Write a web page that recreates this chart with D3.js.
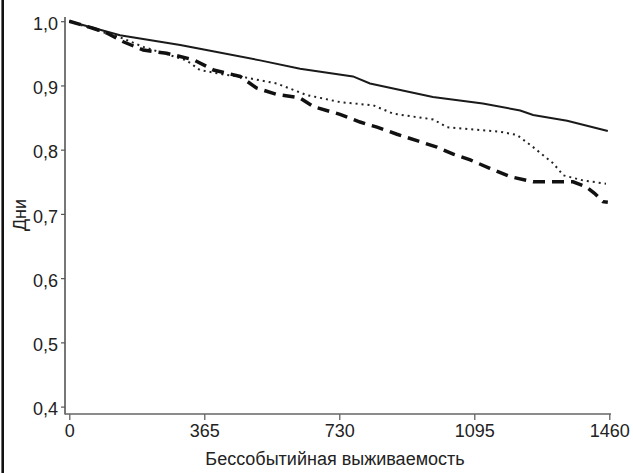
<!DOCTYPE html>
<html>
<head>
<meta charset="utf-8">
<script src="https://cdn.jsdelivr.net/npm/d3@7"></script>
<style>
  body { margin: 0; background: #fff; }
  text { font-family: "Liberation Sans", Arial, sans-serif; fill: #222; }
</style>
</head>
<body>
<svg id="chart" width="633" height="473"></svg>
<script>
// x ticks (days) and y ticks
const xTicks = [0, 365, 730, 1095, 1460];
const yTicks = [0.4, 0.5, 0.6, 0.7, 0.8, 0.9, 1.0];

// curves: [day, survival]
const solidSeries = [
  [0, 1.0], [137, 0.978], [300, 0.963], [353, 0.957], [516, 0.939], [624, 0.926],
  [767, 0.914], [813, 0.903], [983, 0.882], [1118, 0.872], [1219, 0.861],
  [1254, 0.854], [1346, 0.845], [1456, 0.829]
];
const dashedSeries = [
  [0, 1.0], [64, 0.989], [100, 0.982], [146, 0.968], [200, 0.955], [263, 0.95],
  [336, 0.94], [390, 0.924], [462, 0.914], [506, 0.896], [561, 0.886], [622, 0.881],
  [660, 0.867], [732, 0.855], [786, 0.843], [832, 0.835], [886, 0.824], [940, 0.814],
  [994, 0.804], [1038, 0.793], [1084, 0.784], [1137, 0.771], [1192, 0.758],
  [1254, 0.75], [1308, 0.75], [1362, 0.75], [1398, 0.742], [1420, 0.732],
  [1443, 0.719], [1456, 0.718]
];
const dottedSeries = [
  [0, 1.0], [101, 0.981], [133, 0.976], [200, 0.96], [317, 0.939], [353, 0.924],
  [417, 0.917], [471, 0.913], [561, 0.903], [642, 0.885], [732, 0.874], [822, 0.869],
  [876, 0.856], [984, 0.847], [1021, 0.835], [1164, 0.828], [1210, 0.823],
  [1254, 0.804], [1308, 0.779], [1336, 0.76], [1390, 0.752], [1451, 0.747]
];

const svg = d3.select("#chart");

const x = d3.scaleLinear().domain([0, 1460]).range([69.3, 609.3]);
const y = d3.scaleLinear().domain([0.4, 1.0]).range([406.6, 21.2]);

// left frame line
svg.append("line")
  .attr("x1", 2.7).attr("x2", 2.7)
  .attr("y1", 0).attr("y2", 473)
  .attr("stroke", "#111").attr("stroke-width", 2.6);

// y axis
const yAxis = svg.append("g").attr("transform", "translate(65,0)");
yAxis.call(d3.axisLeft(y).tickValues(yTicks).tickSize(4).tickPadding(3)
  .tickFormat(d => d3.format(".1f")(d).replace(".", ",")));
yAxis.select(".domain").remove();
yAxis.append("line")
  .attr("x1", 0).attr("x2", 0).attr("y1", 17).attr("y2", 414.5)
  .attr("stroke", "#555").attr("stroke-width", 1.6);
yAxis.selectAll(".tick line").attr("stroke", "#555").attr("stroke-width", 1.2);
yAxis.selectAll(".tick text")
  .attr("font-size", 18).attr("dy", "0.45em")
  .attr("font-family", "Liberation Sans, Arial, sans-serif").attr("fill", "#222");

// x axis
const xAxis = svg.append("g").attr("transform", "translate(0,414)");
xAxis.call(d3.axisBottom(x).tickValues(xTicks).tickSize(6).tickPadding(4)
  .tickFormat(d3.format("d")));
xAxis.select(".domain").remove();
xAxis.append("line")
  .attr("x1", 65).attr("x2", 611).attr("y1", 0).attr("y2", 0)
  .attr("stroke", "#666").attr("stroke-width", 1.6);
xAxis.selectAll(".tick line").attr("stroke", "#555").attr("stroke-width", 1.2);
xAxis.selectAll(".tick text")
  .attr("font-size", 18).attr("dy", "0.72em")
  .attr("font-family", "Liberation Sans, Arial, sans-serif").attr("fill", "#222");

// curves
const line = d3.line().x(d => x(d[0])).y(d => y(d[1]));

svg.append("path").datum(solidSeries)
  .attr("d", line).attr("fill", "none")
  .attr("stroke", "#1a1a1a").attr("stroke-width", 2);

svg.append("path").datum(dottedSeries)
  .attr("d", line).attr("fill", "none")
  .attr("stroke", "#222").attr("stroke-width", 2)
  .attr("stroke-dasharray", "2,4");

svg.append("path").datum(dashedSeries)
  .attr("d", line).attr("fill", "none")
  .attr("stroke", "#111").attr("stroke-width", 3.5)
  .attr("stroke-dasharray", "12,7");

// axis titles
svg.append("text")
  .attr("x", 335).attr("y", 465)
  .attr("text-anchor", "middle").attr("font-size", 18)
  .text("Бессобытийная выживаемость");

svg.append("text")
  .attr("transform", "translate(26,215) rotate(-90)")
  .attr("text-anchor", "middle").attr("font-size", 18)
  .text("Дни");
</script>
</body>
</html>
